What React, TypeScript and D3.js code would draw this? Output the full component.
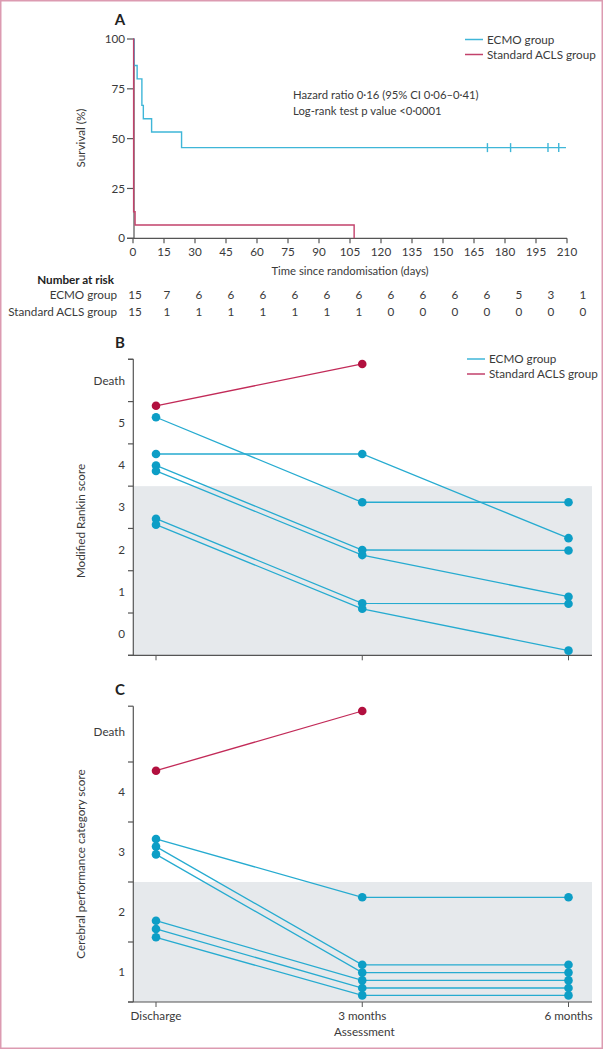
import React from 'react';
import * as d3 from 'd3';

// ---------- Data ----------
const kmTicks = [0, 15, 30, 45, 60, 75, 90, 105, 120, 135, 150, 165, 180, 195, 210];
const survTicks = [0, 25, 50, 75, 100];
const ecmoKM = [
  { t: 0, s: 100 }, { t: 0.5, s: 86.7 }, { t: 2, s: 80 }, { t: 4.3, s: 66.7 },
  { t: 5, s: 60 }, { t: 9, s: 53.3 }, { t: 23.5, s: 45.5 }, { t: 209.5, s: 45.5 },
];
const aclsKM = [
  { t: 0, s: 100 }, { t: 0.3, s: 13.3 }, { t: 1, s: 6.7 }, { t: 107, s: 0 },
];
const ecmoCensorTimes = [171.5, 182.7, 200.8, 206];
const ecmoCensorLevel = 45.5;
const groupNames = ['ECMO group', 'Standard ACLS group'];
const ecmoAtRisk = [15, 7, 6, 6, 6, 6, 6, 6, 6, 6, 6, 6, 5, 3, 1];
const aclsAtRisk = [15, 1, 1, 1, 1, 1, 1, 1, 0, 0, 0, 0, 0, 0, 0];
const statsLines = ['Hazard ratio 0·16 (95% CI 0·06–0·41)', 'Log-rank test p value <0·0001'];

const assessments = ['Discharge', '3 months', '6 months'];
const rankinLabels = ['0', '1', '2', '3', '4', '5', 'Death'];
const rankinEcmo = [
  [5.13, 3.12, 3.12],
  [4.26, 4.26, 2.27],
  [3.99, 1.99, 1.98],
  [3.86, 1.87, 0.885],
  [2.73, 0.73, 0.72],
  [2.59, 0.6, -0.39],
];
const rankinAcls = [[5.4, 6.39]];
const rankinGoodMax = 3.5;

const cpcLabels = ['1', '2', '3', '4', 'Death'];
const cpcEcmo = [
  [3.217, 2.245, 2.245],
  [3.09, 1.12, 1.12],
  [2.96, 0.99, 0.99],
  [1.855, 0.86, 0.86],
  [1.717, 0.733, 0.733],
  [1.578, 0.61, 0.61],
];
const cpcAcls = [[4.355, 5.35]];
const cpcGoodMax = 2.5;

// ---------- Styles ----------
const FONT = 'Lato, "Open Sans", sans-serif';
const FS = 11.3;
const TXT = '#3a3a3a';
const AX = '#555';
const KM_CYAN = '#3fb6d8';
const KM_RED = '#c2416b';
const DOT_CYAN = '#0d9ec6';
const LINE_CYAN = '#26abd0';
const DOT_RED = '#b2103f';
const LINE_RED = '#c22a58';
const GREY = '#e6e9ec';

function Legend({ x, y }: { x: number; y: number }) {
  return (
    <g>
      {groupNames.map((n, i) => (
        <g key={n}>
          <line x1={x} x2={x + 18} y1={y + i * 15} y2={y + i * 15}
            stroke={i === 0 ? KM_CYAN : KM_RED} strokeWidth={1.5} />
          <text x={x + 22} y={y + i * 15} dy="0.35em" fontSize={FS + 0.4} fill={TXT}>{n}</text>
        </g>
      ))}
    </g>
  );
}

function SlopePanel({
  yScale, labels, labelOffset, ecmo, acls, goodMax, axisTop, showX, title, titleY, letter, letterY, legend,
}: any) {
  const x = d3.scalePoint<string>().domain(assessments).range([156, 568.5]);
  const x0 = 133.3;
  const bottom = yScale.range()[0];
  const dom = yScale.domain();
  const boundaries = d3.range(dom[0], axisTop + 0.001, 1);
  const line = d3.line<number>().x((_, i) => x(assessments[i]) as number).y((v) => yScale(v));
  return (
    <g>
      <text x={120} y={letterY} dy="0.35em" textAnchor="middle" fontSize={15} fontWeight="bold" fill="#222">{letter}</text>
      <rect x={x0} y={yScale(goodMax)} width={592 - x0} height={bottom - yScale(goodMax)} fill={GREY} />
      <line x1={x0} x2={x0} y1={yScale(axisTop)} y2={bottom} stroke={AX} strokeWidth={1.2} />
      <line x1={128} x2={592} y1={bottom} y2={bottom} stroke={AX} strokeWidth={1.2} />
      {boundaries.map((b: number) => (
        <line key={b} x1={128} x2={x0} y1={yScale(b)} y2={yScale(b)} stroke={AX} strokeWidth={1.2} />
      ))}
      <line x1={128} x2={x0} y1={yScale(axisTop)} y2={yScale(axisTop)} stroke={AX} strokeWidth={1.2} />
      {labels.map((l: string, i: number) => (
        <text key={l} x={125} y={yScale(i + labelOffset)} dy="0.35em" textAnchor="end" fontSize={FS + 0.4} fill={TXT}>{l}</text>
      ))}
      {assessments.map((a) => (
        <line key={a} x1={x(a)} x2={x(a)} y1={bottom} y2={bottom + 5} stroke={AX} strokeWidth={1} />
      ))}
      {showX && assessments.map((a) => (
        <text key={a} x={x(a)} y={bottom + 14} dy="0.35em" textAnchor="middle" fontSize={FS + 0.4} fill={TXT}>{a}</text>
      ))}
      {showX && (
        <text x={(x(assessments[0])! + x(assessments[2])!) / 2 + 2} y={bottom + 30} dy="0.35em" textAnchor="middle" fontSize={FS + 0.4} fill={TXT}>Assessment</text>
      )}
      <text transform={`translate(81,${titleY}) rotate(-90)`} textAnchor="middle" dy="0.35em" fontSize={FS + 0.4} fill={TXT}>{title}</text>
      {ecmo.map((s: number[], i: number) => (
        <path key={'l' + i} d={line(s) as string} fill="none" stroke={LINE_CYAN} strokeWidth={1.3} />
      ))}
      {acls.map((s: number[], i: number) => (
        <path key={'r' + i} d={line(s) as string} fill="none" stroke={LINE_RED} strokeWidth={1.3} />
      ))}
      {ecmo.map((s: number[], i: number) => s.map((v, j) => (
        <circle key={`c${i}-${j}`} cx={x(assessments[j])} cy={yScale(v)} r={4.3} fill={DOT_CYAN} />
      )))}
      {acls.map((s: number[], i: number) => s.map((v, j) => (
        <circle key={`d${i}-${j}`} cx={x(assessments[j])} cy={yScale(v)} r={4.3} fill={DOT_RED} />
      )))}
      {legend && <Legend x={467} y={359} />}
    </g>
  );
}

export default function App() {
  const W = 604, H = 1050;
  // Panel A scales
  const xA = d3.scaleLinear().domain([0, 210]).range([133, 567]);
  const yA = d3.scaleLinear().domain([0, 100]).range([238.3, 39]);
  const step = d3.line<{ t: number; s: number }>().x((d) => xA(d.t)).y((d) => yA(d.s)).curve(d3.curveStepAfter);
  const riskX = d3.scalePoint<number>().domain(d3.range(kmTicks.length)).range([135, 583]);

  const yB = d3.scaleLinear().domain([-0.5, 6.5]).range([655.3, 359.3]);
  const yC = d3.scaleLinear().domain([0.5, 5.5]).range([1002, 702]);

  return (
    <svg width={W} height={H} style={{ position: 'absolute', left: 0, top: 0, fontFamily: FONT }}>
      <rect x={0.75} y={0.75} width={601.5} height={1047.5} fill="white" stroke="#dc9bb1" strokeWidth={1.5} />

      {/* Panel A */}
      <text x={120} y={20} dy="0.35em" textAnchor="middle" fontSize={15} fontWeight="bold" fill="#222">A</text>
      <line x1={134} x2={134} y1={yA(100)} y2={yA(0)} stroke={AX} strokeWidth={1.2} />
      <line x1={127} x2={567} y1={yA(0)} y2={yA(0)} stroke={AX} strokeWidth={1.2} />
      {survTicks.map((t) => (
        <g key={t}>
          <line x1={127} x2={134} y1={yA(t)} y2={yA(t)} stroke={AX} strokeWidth={1.2} />
          <text x={125} y={yA(t)} dy="0.35em" textAnchor="end" fontSize={FS + 0.4} fill={TXT}>{t}</text>
        </g>
      ))}
      {kmTicks.map((t) => (
        <g key={t}>
          <line x1={xA(t)} x2={xA(t)} y1={yA(0)} y2={yA(0) + 5} stroke={AX} strokeWidth={1.2} />
          <text x={xA(t)} y={yA(0) + 13.5} dy="0.35em" textAnchor="middle" fontSize={FS + 0.4} fill={TXT}>{t}</text>
        </g>
      ))}
      <text x={350} y={271.5} dy="0.35em" textAnchor="middle" fontSize={FS} fill={TXT}>Time since randomisation (days)</text>
      <text transform={`translate(81,138) rotate(-90)`} textAnchor="middle" dy="0.35em" fontSize={FS + 0.4} fill={TXT}>Survival (%)</text>
      <path d={step(ecmoKM) as string} fill="none" stroke={KM_CYAN} strokeWidth={1.4} />
      {ecmoCensorTimes.map((t) => (
        <line key={t} x1={xA(t)} x2={xA(t)} y1={yA(ecmoCensorLevel) - 4.5} y2={yA(ecmoCensorLevel) + 4.5} stroke={KM_CYAN} strokeWidth={1.4} />
      ))}
      <path d={step(aclsKM) as string} fill="none" stroke={KM_RED} strokeWidth={1.4} />
      <Legend x={465} y={39.5} />
      {statsLines.map((s, i) => (
        <text key={s} x={293} y={95 + i * 16} dy="0.35em" fontSize={FS} fill={TXT}>{s}</text>
      ))}

      {/* Number at risk */}
      <text x={114} y={280} dy="0.35em" textAnchor="end" fontSize={FS + 0.4} fontWeight="bold" fill="#222">Number at risk</text>
      {[ecmoAtRisk, aclsAtRisk].map((row, r) => (
        <g key={r}>
          <text x={117} y={295 + r * 16.5} dy="0.35em" textAnchor="end" fontSize={FS + 0.4} fill={TXT}>{groupNames[r]}</text>
          {row.map((n, i) => (
            <text key={i} x={riskX(i)} y={295 + r * 16.5} dy="0.35em" textAnchor="middle" fontSize={FS + 0.4} fill={TXT}>{n}</text>
          ))}
        </g>
      ))}

      {/* Panel B */}
      <SlopePanel yScale={yB} labels={rankinLabels} labelOffset={0} ecmo={rankinEcmo} acls={rankinAcls}
        goodMax={rankinGoodMax} axisTop={6.5} showX={false} title="Modified Rankin score" titleY={521}
        letter="B" letterY={343} legend />

      {/* Panel C */}
      <SlopePanel yScale={yC} labels={cpcLabels} labelOffset={1} ecmo={cpcEcmo} acls={cpcAcls}
        goodMax={cpcGoodMax} axisTop={5.43} showX title="Cerebral performance category score" titleY={864}
        letter="C" letterY={690} legend={false} />
    </svg>
  );
}
